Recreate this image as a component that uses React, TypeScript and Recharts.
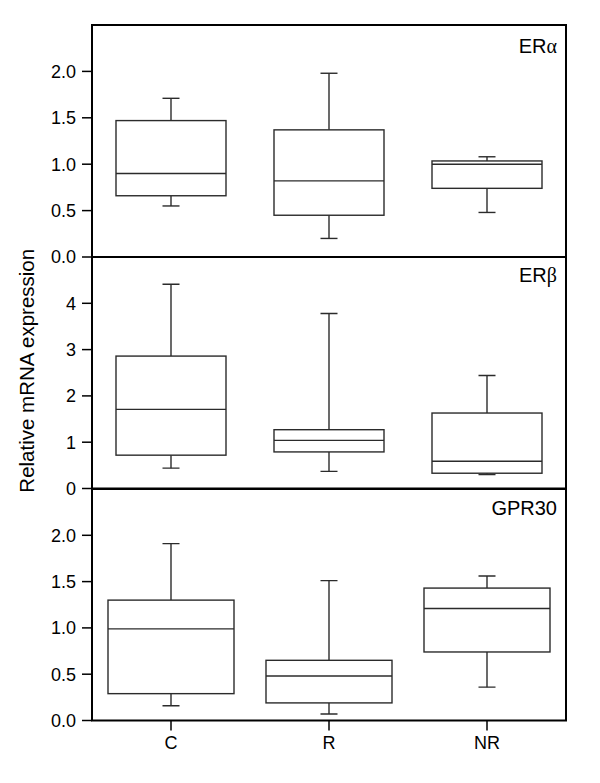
import React from 'react';
import { ComposedChart, Bar, XAxis, YAxis, ReferenceArea, Label } from 'recharts';

const categories = ['C', 'R', 'NR'];

const eraMin = [0.55, 0.2, 0.48];
const eraQ1 = [0.66, 0.45, 0.74];
const eraMed = [0.9, 0.82, 1.0];
const eraQ3 = [1.47, 1.37, 1.035];
const eraMax = [1.71, 1.98, 1.08];

const erbMin = [0.44, 0.37, 0.3];
const erbQ1 = [0.72, 0.79, 0.33];
const erbMed = [1.71, 1.04, 0.59];
const erbQ3 = [2.86, 1.27, 1.63];
const erbMax = [4.41, 3.78, 2.44];

const gprMin = [0.16, 0.07, 0.36];
const gprQ1 = [0.29, 0.19, 0.74];
const gprMed = [0.99, 0.48, 1.21];
const gprQ3 = [1.3, 0.65, 1.43];
const gprMax = [1.91, 1.51, 1.56];

const ticks1 = [0, 0.5, 1, 1.5, 2];
const ticks2 = [0, 1, 2, 3, 4];
const ticks3 = [0, 0.5, 1, 1.5, 2];

const FONT = '"Liberation Sans", Arial, Helvetica, sans-serif';
const BOX = '#2b2b2b';

function build(mins: number[], q1: number[], med: number[], q3: number[], maxs: number[]) {
  return categories.map((c, i) => ({
    cat: c,
    range: [mins[i], maxs[i]],
    min: mins[i],
    q1: q1[i],
    med: med[i],
    q3: q3[i],
    max: maxs[i],
  }));
}

const BoxShape = (props: any) => {
  const { x, y, width, height, payload } = props;
  if (x == null || y == null || !payload) return null;
  const top = Math.min(y, y + height);
  const bottom = Math.max(y, y + height);
  const span = payload.max - payload.min;
  const toPx = (v: number) => bottom - ((v - payload.min) / span) * (bottom - top);
  const cx = x + width / 2;
  const yq1 = toPx(payload.q1);
  const yq3 = toPx(payload.q3);
  const ymed = toPx(payload.med);
  const cap = 8.5;
  return (
    <g stroke={BOX} strokeWidth={1.4} fill="none">
      <line x1={cx} x2={cx} y1={top} y2={yq3} />
      <line x1={cx} x2={cx} y1={yq1} y2={bottom} />
      <line x1={cx - cap} x2={cx + cap} y1={top} y2={top} />
      <line x1={cx - cap} x2={cx + cap} y1={bottom} y2={bottom} />
      <rect x={x} y={yq3} width={width} height={yq1 - yq3} fill="#fff" />
      <line x1={x} x2={x + width} y1={ymed} y2={ymed} />
    </g>
  );
};

const panelTitle = (content: React.ReactNode, dyTop: number) => (props: any) => {
  const vb = props.viewBox || {};
  return (
    <text
      x={vb.x + vb.width - 9}
      y={vb.y + dyTop}
      textAnchor="end"
      fontFamily={FONT}
      fontSize={20}
      fill="#000"
    >
      {content}
    </text>
  );
};

type PanelProps = {
  data: any[];
  domain: [number, number];
  ticks: number[];
  fmt: (v: number) => string;
  top: number;
  height: number;
  margin: { top: number; right: number; bottom: number; left: number };
  barSize: number;
  title: React.ReactNode;
  titleDy: number;
  showX?: boolean;
  yLabel?: boolean;
};

const Panel = ({ data, domain, ticks, fmt, top, height, margin, barSize, title, titleDy, showX, yLabel }: PanelProps) => (
  <div style={{ position: 'absolute', left: 0, top, width: 600, height }}>
    <ComposedChart width={600} height={height} data={data} margin={margin}>
      <XAxis
        dataKey="cat"
        type="category"
        hide={!showX}
        axisLine={false}
        tickLine={{ stroke: '#000', strokeWidth: 1.5 }}
        tickSize={10}
        tickMargin={6}
        height={30}
        tick={{ fill: '#000', fontSize: 18, fontFamily: FONT }}
        interval={0}
      />
      <YAxis
        type="number"
        domain={domain}
        ticks={ticks}
        interval={0}
        allowDataOverflow
        width={92}
        axisLine={false}
        tickLine={{ stroke: '#000', strokeWidth: 1.5 }}
        tickSize={10}
        tickMargin={6}
        tickFormatter={fmt}
        tick={{ fill: '#000', fontSize: 18, fontFamily: FONT }}
      >
        {yLabel ? (
          <Label
            value="Relative mRNA expression"
            angle={-90}
            position="center"
            dx={-19}
            dy={-2}
            style={{ fontSize: 20.5, fontFamily: FONT, fill: '#000', textAnchor: 'middle' }}
          />
        ) : null}
      </YAxis>
      <Bar dataKey="range" barSize={barSize} shape={<BoxShape />} isAnimationActive={false} />
      <ReferenceArea
        y1={domain[0]}
        y2={domain[1]}
        fill="none"
        stroke="#000"
        strokeWidth={2}
        fillOpacity={0}
        ifOverflow="visible"
        label={panelTitle(title, titleDy)}
      />
    </ComposedChart>
  </div>
);

const data1 = build(eraMin, eraQ1, eraMed, eraQ3, eraMax);
const data2 = build(erbMin, erbQ1, erbMed, erbQ3, erbMax);
const data3 = build(gprMin, gprQ1, gprMed, gprQ3, gprMax);

export default function App() {
  return (
    <div style={{ position: 'absolute', left: 0, top: 0, width: 600, height: 783, background: '#fff' }}>
      <Panel
        data={data1}
        domain={[0, 2.5]}
        ticks={ticks1}
        fmt={(v) => v.toFixed(1)}
        top={0}
        height={275}
        margin={{ top: 25, right: 34, bottom: 18, left: 0 }}
        barSize={110}
        title={<>ER<tspan fontFamily='"Liberation Serif", "DejaVu Serif", serif'>α</tspan></>}
        titleDy={27.5}
      />
      <Panel
        data={data2}
        domain={[0, 5]}
        ticks={ticks2}
        fmt={(v) => String(v)}
        top={232}
        height={274.5}
        margin={{ top: 25, right: 34, bottom: 18, left: 0 }}
        barSize={110}
        title={<>ER<tspan fontFamily='"Liberation Serif", "DejaVu Serif", serif'>β</tspan></>}
        titleDy={24.5}
        yLabel
      />
      <Panel
        data={data3}
        domain={[0, 2.5]}
        ticks={ticks3}
        fmt={(v) => v.toFixed(1)}
        top={483.5}
        height={299.5}
        margin={{ top: 5, right: 34, bottom: 33, left: 0 }}
        barSize={126}
        title="GPR30"
        titleDy={26}
        showX
      />
    </div>
  );
}
